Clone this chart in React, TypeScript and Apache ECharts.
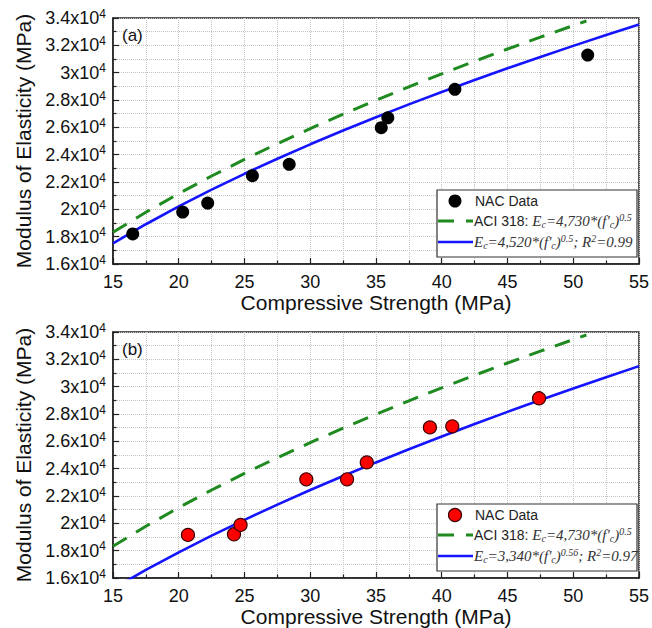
import React, { useEffect, useRef } from 'react';
import * as echarts from 'echarts';

const NAC_A_X = [16.5, 20.3, 22.2, 25.6, 28.4, 35.4, 35.9, 41.0, 51.1];
const NAC_A_Y = [18200, 19800, 20460, 22460, 23290, 25970, 26700, 28780, 31290];
const NAC_B_X = [20.7, 24.2, 24.7, 29.7, 32.8, 34.3, 39.1, 40.8, 47.4];
const NAC_B_Y = [19150, 19200, 19880, 23220, 23220, 24460, 27020, 27100, 29150];

const ACI_X = [15, 17.5, 20, 22.5, 25, 27.5, 30, 32.5, 35, 37.5, 40, 42.5, 45, 47.5, 50, 51];
const ACI_Y = [18319, 19787, 21153, 22437, 23650, 24804, 25907, 26965, 27983, 28966, 29915, 30836, 31730, 32599, 33446, 33779];
const FIT_X = [15, 17.5, 20, 22.5, 25, 27.5, 30, 32.5, 35, 37.5, 40, 42.5, 45, 47.5, 50, 52.5, 55];
const FIT_A_Y = [17506, 18909, 20214, 21440, 22600, 23703, 24757, 25768, 26741, 27680, 28587, 29467, 30322, 31152, 31961, 32750, 33521];
const FIT_B_Y = [15218, 16590, 17878, 19097, 20258, 21368, 22435, 23464, 24457, 25421, 26357, 27267, 28154, 29019, 29865, 30692, 31502];

const PANEL_LABELS = ['(a)', '(b)'];
const X_TITLE = 'Compressive Strength (MPa)';
const Y_TITLE = 'Modulus of Elasticity (MPa)';
const LEGEND_NAC = 'NAC Data';
const LEGEND_ACI = "{s|ACI 318: }{i|E}{sub|c}{i|=4,730*(f'}{sub|c}{i|)}{sup|0.5}";
const LEGEND_FIT = [
  "{i|E}{sub|c}{i|=4,520*(f'}{sub|c}{i|)}{sup|0.5}{i|; R}{sup|2}{i|=0.99}",
  "{i|E}{sub|c}{i|=3,340*(f'}{sub|c}{i|)}{sup|0.56}{i|; R}{sup|2}{i|=0.97}",
];

const SANS = 'Liberation Sans, Arial, sans-serif';
const SERIF = 'Liberation Serif, Times New Roman, serif';
const GREEN = '#1f8a1f';
const BLUE = '#1414ff';

const zip = (xs: number[], ys: number[]) => xs.map((x, i) => [x, ys[i]]);

const GRIDS = [
  { left: 113, top: 18, width: 529, height: 246 },
  { left: 113, top: 332, width: 529, height: 246 },
];

export default function App() {
  const ref = useRef<HTMLDivElement>(null);
  useEffect(() => {
    if (!ref.current) return;
    const chart = echarts.init(ref.current, undefined, { renderer: 'svg' });

    const dotted = { color: '#c4c4c4', type: 'dotted' as const, width: 1 };

    const xAxis = GRIDS.map((_, i) => ({
      type: 'value',
      gridIndex: i,
      min: 15,
      max: 55,
      interval: 5,
      axisLine: { show: true, onZero: false, lineStyle: { color: '#222', width: 1.5 } },
      axisTick: { show: true, inside: true, length: 6, lineStyle: { color: '#222', width: 1.2 } },
      minorTick: { show: true, splitNumber: 2, length: 3.5, lineStyle: { color: '#222', width: 1.2 } },
      splitLine: { show: true, lineStyle: dotted },
      minorSplitLine: { show: true, lineStyle: dotted },
      axisLabel: { fontSize: 18, color: '#111', fontFamily: SANS, margin: 9 },
      name: X_TITLE,
      nameLocation: 'middle',
      nameGap: 28,
      nameTextStyle: { fontSize: 21, color: '#111', fontFamily: SANS },
    }));

    const yAxis = GRIDS.map((_, i) => ({
      type: 'value',
      gridIndex: i,
      min: 16000,
      max: 34000,
      interval: 2000,
      axisLine: { show: true, onZero: false, lineStyle: { color: '#222', width: 1.5 } },
      axisTick: { show: true, inside: true, length: 6, lineStyle: { color: '#222', width: 1.2 } },
      minorTick: { show: true, splitNumber: 2, length: 3.5, lineStyle: { color: '#222', width: 1.2 } },
      splitLine: { show: true, lineStyle: dotted },
      minorSplitLine: { show: true, lineStyle: dotted },
      axisLabel: {
        fontSize: 18,
        color: '#111',
        fontFamily: SANS,
        margin: 7,
        formatter: (v: number) => `${v / 10000}x10{sup|4}`,
        rich: {
          sup: { fontSize: 12, color: '#111', fontFamily: SANS, padding: [0, 0, 9, 0] },
        },
      },
      name: Y_TITLE,
      nameLocation: 'middle',
      nameGap: 76,
      nameTextStyle: { fontSize: 21, color: '#111', fontFamily: SANS },
    }));

    const series: any[] = [];
    const sets = [
      { nac: zip(NAC_A_X, NAC_A_Y), fit: zip(FIT_X, FIT_A_Y), color: '#000', border: '#000' },
      { nac: zip(NAC_B_X, NAC_B_Y), fit: zip(FIT_X, FIT_B_Y), color: '#ff0000', border: '#3a0000' },
    ];
    sets.forEach((s, i) => {
      series.push({
        type: 'line',
        name: 'ACI 318',
        xAxisIndex: i,
        yAxisIndex: i,
        data: zip(ACI_X, ACI_Y),
        showSymbol: false,
        symbol: 'none',
        lineStyle: { color: GREEN, width: 3, type: [16, 11] },
        z: 3,
      });
      series.push({
        type: 'line',
        name: 'Fit',
        xAxisIndex: i,
        yAxisIndex: i,
        data: s.fit,
        showSymbol: false,
        symbol: 'none',
        clip: true,
        lineStyle: { color: BLUE, width: 2.6 },
        z: 4,
      });
      series.push({
        type: 'scatter',
        name: 'NAC Data',
        xAxisIndex: i,
        yAxisIndex: i,
        data: s.nac,
        symbol: 'circle',
        symbolSize: 13,
        itemStyle: { color: s.color, borderColor: s.border, borderWidth: i === 0 ? 0 : 1.2, opacity: 1 },
        z: 5,
      });
    });

    const richLegend = {
      s: { fontFamily: SANS, fontSize: 14, fill: '#222', color: '#222' },
      i: { fontFamily: SERIF, fontStyle: 'italic', fontSize: 15, fill: '#333', color: '#333' },
      sub: { fontFamily: SERIF, fontStyle: 'italic', fontSize: 10, fill: '#333', color: '#333', padding: [7, 0, 0, 0] },
      sup: { fontFamily: SERIF, fontStyle: 'italic', fontSize: 10, fill: '#333', color: '#333', padding: [0, 0, 8, 0] },
    };

    const graphic: any[] = [];
    GRIDS.forEach((g, i) => {
      graphic.push({
        type: 'text',
        left: g.left + 9,
        top: g.top + 9,
        style: { text: PANEL_LABELS[i], fontFamily: SANS, fontSize: 17, fill: '#111' },
        z: 10,
      });
      const bx = 437;
      const by = g.top + g.height - 74;
      graphic.push({
        type: 'rect',
        shape: { x: bx, y: by, width: 200, height: 67 },
        style: { fill: '#fff', stroke: '#333', lineWidth: 1.2 },
        z: 10,
      });
      graphic.push({
        type: 'circle',
        shape: { cx: 455, cy: by + 11, r: 6.5 },
        style: { fill: sets[i].color, stroke: sets[i].border, lineWidth: i === 0 ? 0 : 1.2 },
        z: 11,
      });
      graphic.push({
        type: 'line',
        shape: { x1: 438, y1: by + 31, x2: 473, y2: by + 31 },
        style: { stroke: GREEN, lineWidth: 3, lineDash: [16, 12] },
        z: 11,
      });
      graphic.push({
        type: 'line',
        shape: { x1: 438, y1: by + 52, x2: 473, y2: by + 52 },
        style: { stroke: BLUE, lineWidth: 2.6 },
        z: 11,
      });
      graphic.push({
        type: 'text',
        x: 475,
        y: by + 11,
        style: { text: LEGEND_NAC, fontFamily: SANS, fontSize: 14, fill: '#222', verticalAlign: 'middle' },
        z: 11,
      });
      graphic.push({
        type: 'text',
        x: 474,
        y: by + 31,
        style: { text: LEGEND_ACI, rich: richLegend, fontFamily: SANS, fontSize: 14, fill: '#222', verticalAlign: 'middle' },
        z: 11,
      });
      graphic.push({
        type: 'text',
        x: 474,
        y: by + 52,
        style: { text: LEGEND_FIT[i], rich: richLegend, fontFamily: SERIF, fontSize: 15, fill: '#333', verticalAlign: 'middle' },
        z: 11,
      });
    });

    chart.setOption({
      animation: false,
      backgroundColor: '#fff',
      grid: GRIDS.map((g) => ({ ...g, show: true, borderColor: '#222', borderWidth: 1.5, backgroundColor: 'transparent' })),
      xAxis,
      yAxis,
      series,
      graphic,
    } as any);

    return () => chart.dispose();
  }, []);

  return (
    <div
      ref={ref}
      style={{ position: 'fixed', left: 0, top: 0, width: 652, height: 628, background: '#fff' }}
    />
  );
}
